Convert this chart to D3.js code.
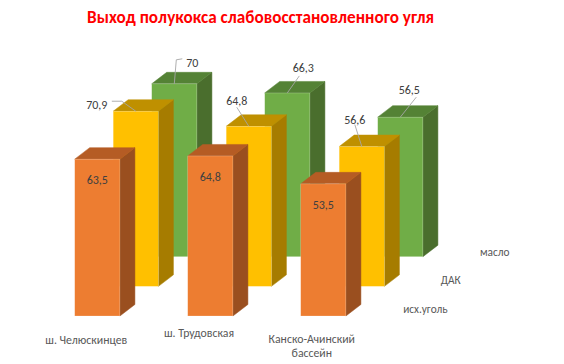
<!DOCTYPE html>
<html><head><meta charset="utf-8">
<script src="https://cdn.jsdelivr.net/npm/d3@7"></script>
<style>body{margin:0;background:#fff}svg{display:block}</style>
</head><body>
<svg id="c" width="564" height="364"></svg>
<script>
const title = "Выход полукокса слабовосстановленного угля";
const categories = ["ш. Челюскинцев", "ш. Трудовская", "Канско-Ачинский бассейн"];
const series = ["исх.уголь", "ДАК", "масло"];
const valuesCoal = [63.5, 64.8, 53.5];
const valuesDAK = [70.9, 64.8, 56.6];
const valuesOil = [70, 66.3, 56.5];
const seriesValues = [valuesCoal, valuesDAK, valuesOil];
const labelsText = [["63,5","64,8","53,5"],["70,9","64,8","56,6"],["70","66,3","56,5"]];

const colors = [
  {front:"#ED7D31", top:"#B55C24", side:"#9A4F1F"},
  {front:"#FFC000", top:"#BF9000", side:"#A67C00"},
  {front:"#70AD47", top:"#548235", side:"#4A6E2D"}
];

const svg = d3.select("#c");
const font = "Calibri, Carlito, 'Open Sans', sans-serif";

const x = d3.scaleBand().domain(categories).range([40.8, 379.8]).paddingInner(0.6).paddingOuter(0.3);
const y = d3.scaleLinear().domain([0, 80]).range([0, 197.6]); // height in px
const depth = d3.scalePoint().domain(series).range([0, 77]); // dx of row
const rowDy = -0.77;
const baseY = 316;
const bdx = 15, bdy = -11.5;

svg.append("text").attr("x", 260.5).attr("y", 23).attr("text-anchor","middle")
  .attr("font-family", font).attr("font-weight","bold").attr("font-size", 18.5)
  .attr("fill","#FF0000").attr("textLength", 347).attr("lengthAdjust","spacingAndGlyphs").text(title);

// draw back to front
for (let si = series.length - 1; si >= 0; si--) {
  const s = series[si];
  const ox = depth(s), oy = depth(s) * rowDy;
  const g = svg.append("g");
  categories.forEach((c, ci) => {
    const v = seriesValues[si][ci];
    const x0 = x(c) + ox, w = x.bandwidth();
    const yb = baseY + oy, yt = yb - y(v);
    const col = colors[si];
    g.append("path").attr("d", `M${x0+w},${yt}L${x0+w+bdx},${yt+bdy}L${x0+w+bdx},${yb+bdy}L${x0+w},${yb}Z`)
      .attr("fill", col.side).attr("stroke", col.side).attr("stroke-width", 0.5);
    g.append("path").attr("d", `M${x0},${yt}L${x0+bdx},${yt+bdy}L${x0+w+bdx},${yt+bdy}L${x0+w},${yt}Z`)
      .attr("fill", col.top).attr("stroke", col.top).attr("stroke-width", 0.5);
    g.append("rect").attr("x", x0).attr("y", yt).attr("width", w).attr("height", y(v))
      .attr("fill", col.front).attr("stroke", "rgba(255,255,255,0.35)").attr("stroke-width", 0.6);
  });
}

const lblStyle = sel => sel.attr("font-family", font).attr("font-size", 12).attr("fill", "#404040").attr("text-anchor","middle");
categories.forEach((c, ci) => {
  const v = valuesCoal[ci];
  const cx = x(c) + x.bandwidth()/2;
  const yt = baseY - y(v);
  lblStyle(svg.append("text")).attr("x", cx).attr("y", yt + 25).text(labelsText[0][ci]);
});
const offs = {
  1: [ {lx:-39, ly:-6, pts:[[-24,-10],[-14,-10],[0,0]]},
       {lx:-12, ly:-25, pts:[[-12,-19],[0,0]]},
       {lx:-7, ly:-27, pts:[[-7,-22],[0,0]]} ],
  2: [ {lx:18, ly:-21, pts:[[8,-25],[2,-24],[0,0]]},
       {lx:16, ly:-25, pts:[[12,-17],[0,0]]},
       {lx:9, ly:-27, pts:[[16,-20],[0,0]]} ]
};
[1,2].forEach(si => {
  const s = series[si];
  const ox = depth(s), oy = depth(s) * rowDy;
  categories.forEach((c, ci) => {
    const v = seriesValues[si][ci];
    const cx = x(c) + x.bandwidth()/2 + ox;
    const yt = baseY + oy - y(v);
    const o = offs[si][ci];
    const line = d3.line()(o.pts.map(p => [cx + p[0], yt + p[1]]));
    svg.append("path").attr("d", line).attr("fill","none").attr("stroke","#A6A6A6").attr("stroke-width",0.9);
    lblStyle(svg.append("text")).attr("x", cx + o.lx).attr("y", yt + o.ly + 4).text(labelsText[si][ci]);
  });
});

const catLabelPos = [[86.3, 344], [199, 337], [311.8, 343]];
categories.forEach((c, ci) => {
  const t = svg.append("text").attr("font-family", font).attr("font-size", 11.8).attr("fill","#595959").attr("text-anchor","middle");
  if (ci === 2) {
    t.append("tspan").attr("x", catLabelPos[ci][0]).attr("y", catLabelPos[ci][1]).text("Канско-Ачинский");
    t.append("tspan").attr("x", catLabelPos[ci][0]).attr("y", catLabelPos[ci][1] + 14).text("бассейн");
  } else {
    t.attr("x", catLabelPos[ci][0]).attr("y", catLabelPos[ci][1]).text(c);
  }
});
const serLabelPos = [[425.3, 313], [450.8, 284], [494.7, 255.5]];
series.forEach((s, si) => {
  svg.append("text").attr("x", serLabelPos[si][0]).attr("y", serLabelPos[si][1])
    .attr("font-family", font).attr("font-size", 11.3).attr("fill","#595959").attr("text-anchor","middle").text(s);
});
</script>
</body></html>
